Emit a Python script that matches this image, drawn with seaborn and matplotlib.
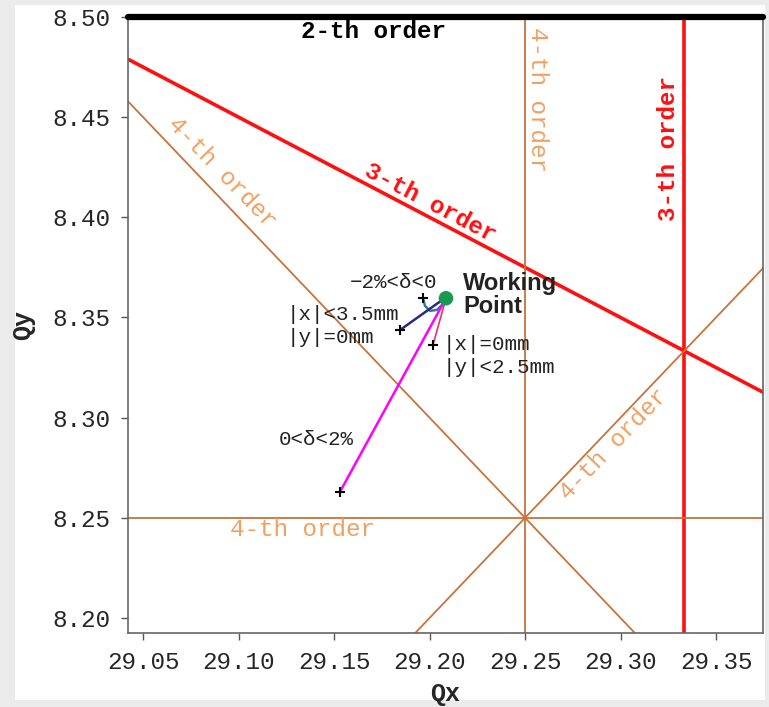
import numpy as np
import pandas as pd
import matplotlib
matplotlib.use("Agg")
import matplotlib.pyplot as plt
import seaborn as sns
from matplotlib.patches import Rectangle

# resonance lines a*Qx + b*Qy = c
res_a = [0, 1, 1, 4, 0, 2, 2]
res_b = [2, 2, 0, 0, 4, 2, -2]
res_c = [17, 46, 29 + 1 / 3, 117, 33, 75, 42]
res_order = [2, 3, 3, 4, 4, 4, 4]

# working point and tune-shift curves
wp_qx = [29.2086]
wp_qy = [8.3596]
neg_dp_qx = [29.1966, 29.1976, 29.2003, 29.2039, 29.2071, 29.2086]
neg_dp_qy = [8.3598, 8.3558, 8.3533, 8.3538, 8.3568, 8.3593]
pos_dp_qx = [29.2086, 29.1531]
pos_dp_qy = [8.3596, 8.2630]
amp_x_qx = [29.2086, 29.2045, 29.1846]
amp_x_qy = [8.3596, 8.3573, 8.3438]
amp_y_qx = [29.2086, 29.2018]
amp_y_qy = [8.3596, 8.3363]

xticks = [29.05, 29.10, 29.15, 29.20, 29.25, 29.30, 29.35]
yticks = [8.20, 8.25, 8.30, 8.35, 8.40, 8.45, 8.50]

sns.set_style("ticks")
plt.rcParams['font.family'] = ['Liberation Mono', 'DejaVu Sans Mono']

fig = plt.figure(figsize=(7.69, 7.07), dpi=100, facecolor='#ebebeb')
bg = Rectangle((15 / 769, 7 / 707), 750 / 769, 695 / 707,
               transform=fig.transFigure, facecolor='white', edgecolor='none')
bg.set_zorder(-10)
fig.patches.append(bg)
ax = fig.add_axes([128 / 769, 74 / 707, 635 / 769, 616 / 707])
ax.set_xlim(29.0421, 29.3746)
ax.set_ylim(8.1925, 8.5)

styles = {2: dict(color='black', lw=4.5),
          3: dict(color='#ff1010', lw=2.6),
          4: dict(color='#c8733a', lw=1.3)}
for a, b, c, o in zip(res_a, res_b, res_c, res_order):
    st = styles[o]
    if b == 0:
        ax.axvline(c / a, color=st['color'], lw=st['lw'], zorder=2)
    elif a == 0:
        ax.axhline(c / b, color=st['color'], lw=st['lw'], zorder=3 if o == 2 else 2,
                   clip_on=(o != 2))
    else:
        ax.axline((29.25, (c - a * 29.25) / b), slope=-a / b,
                  color=st['color'], lw=st['lw'], zorder=2)

# tune shift curves
sns.lineplot(x=neg_dp_qx, y=neg_dp_qy, ax=ax, color='#2b7fa0', lw=1.8, sort=False, zorder=4)
sns.lineplot(x=pos_dp_qx, y=pos_dp_qy, ax=ax, color='#ff00ff', lw=1.8, sort=False, zorder=4)
sns.lineplot(x=amp_x_qx, y=amp_x_qy, ax=ax, color='#2b2b7a', lw=1.8, sort=False, zorder=4)
sns.lineplot(x=amp_y_qx, y=amp_y_qy, ax=ax, color='#e8307a', lw=1.2, sort=False, zorder=4)
ends_x = [neg_dp_qx[0], pos_dp_qx[-1], amp_x_qx[-1], amp_y_qx[-1]]
ends_y = [neg_dp_qy[0], pos_dp_qy[-1], amp_x_qy[-1], amp_y_qy[-1]]
ax.scatter(ends_x, ends_y, marker='+', color='black', s=45, lw=1.5, zorder=5)
sns.scatterplot(x=wp_qx, y=wp_qy, ax=ax, color='#1a9a50', s=110, edgecolor='none', zorder=6)

# resonance labels
lab4 = dict(color='#f0a060', fontsize=17.5, ha='center', va='center')
ax.text(29.0914, 8.4222, '4-th order', rotation=-46, **lab4)
ax.text(29.2565, 8.4586, '4-th order', rotation=-90, **lab4)
ax.text(29.2965, 8.2865, '4-th order', rotation=46, **lab4)
ax.text(29.1333, 8.2440, '4-th order', **lab4)
lab3 = dict(color='#ff1010', fontsize=17.5, fontweight='bold', ha='center', va='center')
ax.text(29.2003, 8.4072, '3-th order', rotation=-27.7, **lab3)
ax.text(29.3249, 8.4346, '3-th order', rotation=90, **lab3)
ax.text(29.1704, 8.4930, '2-th order', color='black', fontsize=17.5,
        fontweight='bold', ha='center', va='center')

# annotations
ann = dict(color='#222222', fontsize=15, va='center')
ax.text(29.2175, 8.3610, 'Working\nPoint', family=['Liberation Sans'],
        fontweight='bold', fontsize=17, color='#222222', va='center', linespacing=1.0)
ax.text(29.1584, 8.3673, '\u22122%<\u03b4<0', **ann)
ax.text(29.1254, 8.3513, '|x|<3.5mm', **ann)
ax.text(29.1254, 8.3398, '|y|=0mm', **ann)
ax.text(29.2071, 8.3363, '|x|=0mm', **ann)
ax.text(29.2071, 8.3249, '|y|<2.5mm', **ann)
ax.text(29.1212, 8.2889, '0<\u03b4<2%', **ann)

ax.set_xticks(xticks)
ax.set_yticks(yticks)
ax.set_xticklabels([f'{v:.2f}' for v in xticks])
ax.set_yticklabels([f'{v:.2f}' for v in yticks])
ax.tick_params(labelsize=17.5, length=5, width=1, color='#555555', pad=8)
for s in ax.spines.values():
    s.set_color('#666666')
    s.set_linewidth(1.2)
ax.set_xlabel('Qx', fontsize=18, fontweight='bold', labelpad=6)
ax.set_ylabel('Qy', fontsize=18, fontweight='bold', labelpad=12)

fig.savefig('out.png', dpi=100, facecolor=fig.get_facecolor())
